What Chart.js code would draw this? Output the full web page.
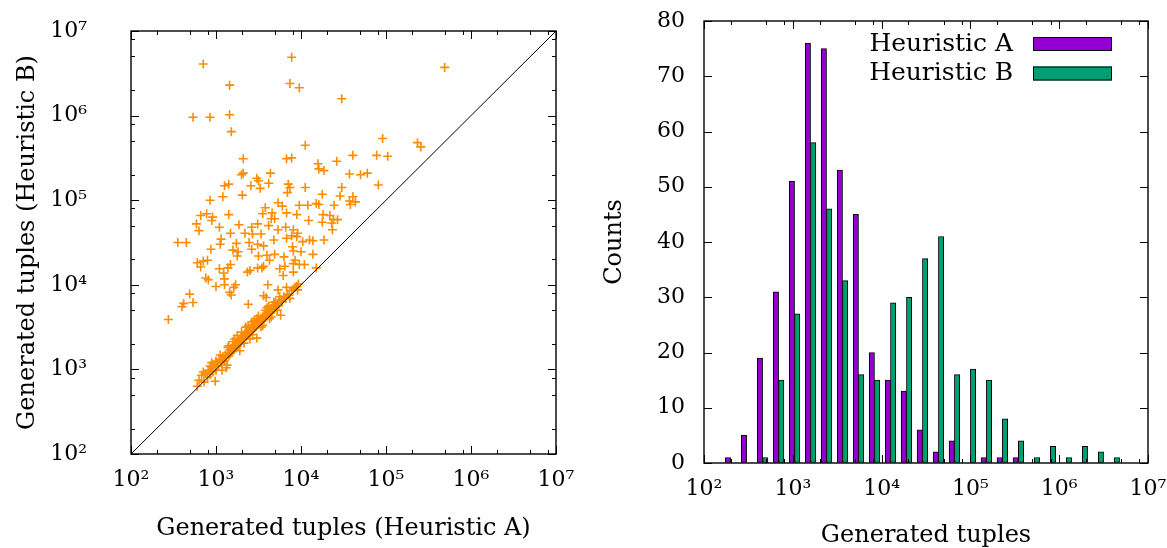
<!DOCTYPE html>
<html>
<head>
<meta charset="utf-8">
<script src="https://cdn.jsdelivr.net/npm/chart.js@4.4.1/dist/chart.umd.min.js"></script>
<style>
  html, body { margin: 0; padding: 0; background: #fff; }
  .wrap { position: relative; width: 1167px; height: 548px; }
  #scatterChart { position: absolute; left: 0; top: 0; }
  #histChart { position: absolute; left: 583px; top: 0; }
</style>
</head>
<body>
<div class="wrap">
  <canvas id="scatterChart" width="583" height="548"></canvas>
  <canvas id="histChart" width="584" height="548"></canvas>
</div>
<script>
// Scatter: [log10 tuples A, log10 tuples B], the cloud above the diagonal
const spreadPoints = [
  [3.89,6.69],[2.85,6.61],[5.69,6.57],[3.16,6.36],[3.87,6.38],[3.98,6.33],[4.48,6.20],[2.73,5.98],[2.93,5.98],[3.16,6.01],
  [3.18,5.81],[4.96,5.73],[5.37,5.68],[5.41,5.63],[4.05,5.65],[3.32,5.49],[3.83,5.49],[3.89,5.50],[4.42,5.46],[4.61,5.53],
  [4.89,5.53],[5.02,5.52],[4.20,5.43],[4.21,5.37],[4.27,5.35],[4.57,5.31],[4.70,5.30],[4.78,5.32],[3.64,5.32],[3.32,5.32],
  [3.30,5.30],[3.48,5.26],[3.50,5.23],[3.41,5.17],[3.52,5.14],[3.62,5.20],[3.85,5.19],[3.87,5.15],[3.84,5.09],[3.10,5.17],
  [3.15,5.19],[4.05,5.15],[4.48,5.15],[4.91,5.18],[4.25,5.07],[4.46,5.05],[4.61,5.04],[4.64,4.98],[4.57,4.99],[4.58,4.95],
  [3.31,5.06],[3.08,5.04],[2.93,5.00],[3.73,4.97],[3.78,4.93],[3.98,4.94],[4.08,4.94],[4.18,4.96],[4.21,4.95],[4.39,4.94],
  [3.58,4.91],[3.55,4.84],[3.66,4.85],[3.83,4.85],[3.95,4.83],[4.26,4.83],[4.34,4.82],[4.38,4.77],[4.43,4.77],[4.36,4.73],
  [4.25,4.74],[4.09,4.76],[2.82,4.82],[2.89,4.84],[2.96,4.80],[2.95,4.76],[3.15,4.83],[2.77,4.72],[2.80,4.64],[3.04,4.68],
  [3.17,4.61],[3.27,4.71],[3.34,4.61],[3.42,4.68],[3.43,4.60],[3.49,4.72],[3.53,4.60],[3.62,4.70],[3.65,4.78],[3.69,4.78],
  [3.73,4.65],[3.82,4.68],[3.91,4.65],[3.96,4.61],[3.95,4.57],[4.02,4.51],[4.10,4.53],[4.14,4.52],[4.27,4.53],[4.37,4.65],
  [2.55,4.50],[2.65,4.50],[2.94,4.42],[3.05,4.48],[3.06,4.54],[3.24,4.49],[3.20,4.41],[3.26,4.39],[3.39,4.50],[3.42,4.42],
  [3.49,4.48],[3.56,4.46],[3.68,4.53],[3.83,4.55],[3.89,4.58],[3.90,4.45],[3.91,4.40],[4.00,4.39],[4.14,4.36],[2.78,4.26],
  [2.82,4.21],[2.85,4.28],[2.90,4.29],[3.04,4.19],[3.14,4.20],[3.09,4.14],[3.17,4.24],[3.25,4.34],[3.40,4.17],[3.37,4.15],
  [3.50,4.34],[3.49,4.20],[3.54,4.20],[3.56,4.22],[3.60,4.35],[3.69,4.36],[3.63,4.29],[3.75,4.19],[3.79,4.11],[3.81,4.22],
  [3.80,4.33],[3.91,4.25],[3.93,4.29],[3.98,4.24],[4.04,4.24],[3.91,4.15],[4.18,4.20],[2.88,4.08],[2.91,4.06],[3.00,3.98],
  [3.10,4.07],[3.10,4.00],[3.16,3.91],[3.18,3.88],[3.23,4.00],[3.21,3.97],[3.61,4.00],[3.73,3.94],[3.83,3.97],[3.96,3.94],
  [3.56,3.87],[3.59,3.85],[3.38,3.77],[2.69,3.89],[2.73,3.79],[2.62,3.78],[2.60,3.74],[2.44,3.59]
];

// Scatter: the dense band just above y = x
const bandPoints = [
  [2.78,2.80],[2.80,2.87],[2.83,2.93],[2.85,2.97],[2.86,2.85],[2.88,2.95],[2.90,2.91],[2.91,2.99],[2.93,2.94],[2.95,3.02],
  [2.96,2.97],[2.98,3.05],[3.00,2.99],[3.01,3.08],[3.03,3.04],[3.04,3.12],[3.06,3.08],[3.07,3.11],[3.08,3.15],[3.10,3.10],
  [3.11,3.17],[3.12,3.14],[3.13,3.05],[3.14,3.20],[3.15,3.16],[3.16,3.23],[3.17,3.19],[3.18,3.25],[3.19,3.21],[3.20,3.27],
  [3.21,3.24],[3.22,3.29],[3.23,3.26],[3.24,3.31],[3.25,3.28],[3.26,3.34],[3.27,3.30],[3.28,3.36],[3.29,3.32],[3.30,3.38],
  [3.31,3.35],[3.32,3.40],[3.33,3.37],[3.34,3.42],[3.35,3.39],[3.36,3.44],[3.37,3.41],[3.38,3.46],[3.39,3.43],[3.40,3.48],
  [3.41,3.45],[3.42,3.50],[3.43,3.47],[3.44,3.52],[3.45,3.49],[3.46,3.54],[3.47,3.51],[3.48,3.37],[3.49,3.56],[3.50,3.53],
  [3.51,3.58],[3.52,3.55],[3.53,3.60],[3.54,3.57],[3.55,3.62],[3.56,3.59],[3.57,3.64],[3.58,3.61],[3.59,3.66],[3.60,3.63],
  [3.61,3.68],[3.62,3.65],[3.63,3.70],[3.64,3.67],[3.65,3.72],[3.66,3.69],[3.67,3.74],[3.68,3.71],[3.69,3.76],[3.70,3.73],
  [3.72,3.78],[3.73,3.75],[3.74,3.80],[3.76,3.64],[3.77,3.82],[3.78,3.80],[3.80,3.86],[3.82,3.84],[3.84,3.89],[3.86,3.88],
  [3.87,3.84],[3.89,3.93],[3.91,3.95],[3.93,3.97],[3.95,3.98],[3.97,4.01],[3.20,3.33],[3.35,3.50],[3.45,3.58],[3.28,3.22],
  [3.40,3.36],[3.55,3.52],[3.65,3.62],[3.07,2.99],[2.93,3.04],[3.00,3.10],[3.14,3.26],[3.60,3.73],[3.70,3.80],[3.25,3.40],
  [3.50,3.63],[2.99,2.86],[3.12,3.02],[3.30,3.44],[3.38,3.52],[3.48,3.60],[3.58,3.70],[3.68,3.79],[3.15,3.28],[3.05,3.17],
  [2.95,3.08],[3.22,3.36],[3.42,3.56],[3.62,3.75],[3.75,3.86],[3.33,3.31],[3.43,3.41],[3.53,3.50],[3.63,3.60],[3.72,3.70]
];

// Histogram: bin centres (log10 tuples) and counts
const binCentersLog = [2.30, 2.48, 2.66, 2.84, 3.02, 3.20, 3.38, 3.56, 3.74, 3.92, 4.10, 4.28, 4.46,
                       4.64, 4.82, 5.00, 5.18, 5.36, 5.54, 5.72, 5.90, 6.08, 6.26, 6.44, 6.62];
const countsA = [1, 5, 19, 31, 51, 76, 75, 53, 45, 20, 15, 13, 6, 2, 4, 0, 1, 1, 1, 0, 0, 0, 0, 0, 0];
const countsB = [0, 0, 1, 15, 27, 58, 46, 33, 16, 15, 29, 30, 37, 41, 16, 17, 15, 8, 4, 1, 3, 1, 3, 2, 1];

// Axis ticks
const decadeTicks = [1e2, 1e3, 1e4, 1e5, 1e6, 1e7];
const decadeLabels = ['10²', '10³', '10⁴', '10⁵', '10⁶', '10⁷'];
const countTicks = [0, 10, 20, 30, 40, 50, 60, 70, 80];

const FONT = { family: '"DejaVu Serif", serif', size: 24, lineHeight: 1 };
const TICK_FONT = { family: '"DejaVu Serif", serif', size: 22 };
const CLEAR = 'rgba(0,0,0,0)';

// minor log ticks at 2, 5, 8 per decade (as in the original)
function logMinor(from, to) {
  const out = [];
  for (let d = from; d < to; d *= 10) out.push(d * 2, d * 5, d * 8);
  return out;
}

// frame + inward tick marks on all four sides (gnuplot look)
const frameTicks = {
  id: 'frameTicks',
  afterDraw(chart, args, opts) {
    const { ctx, chartArea: a, scales } = chart;
    ctx.save();
    ctx.strokeStyle = '#000';
    ctx.lineWidth = 1;
    ctx.beginPath();
    const xt = (vals, len) => vals.forEach(v => {
      const p = Math.round(scales.x.getPixelForValue(v)) + 0.5;
      ctx.moveTo(p, a.bottom); ctx.lineTo(p, a.bottom - len);
      ctx.moveTo(p, a.top); ctx.lineTo(p, a.top + len);
    });
    const yt = (vals, len) => vals.forEach(v => {
      const p = Math.round(scales.y.getPixelForValue(v)) + 0.5;
      ctx.moveTo(a.left, p); ctx.lineTo(a.left + len, p);
      ctx.moveTo(a.right, p); ctx.lineTo(a.right - len, p);
    });
    xt(opts.xMajor || [], 8);
    xt(opts.xMinor || [], 4);
    yt(opts.yMajor || [], 8);
    yt(opts.yMinor || [], 4);
    ctx.stroke();
    ctx.lineWidth = 1.4;
    ctx.strokeRect(a.left, a.top, a.right - a.left, a.bottom - a.top);
    ctx.restore();
  }
};

// legend in the top right corner: text, then a filled box
const legendBoxes = {
  id: 'legendBoxes',
  afterDraw(chart) {
    const { ctx, chartArea: a } = chart;
    ctx.save();
    ctx.font = '25px "DejaVu Serif", serif';
    ctx.textAlign = 'right';
    ctx.textBaseline = 'middle';
    chart.data.datasets.forEach((ds, i) => {
      const cy = a.top + 23 + i * 29.5;
      ctx.fillStyle = '#000';
      ctx.fillText(ds.label, a.right - 135, cy);
      ctx.fillStyle = ds.backgroundColor;
      ctx.fillRect(a.right - 115, cy - 7, 79, 14);
      ctx.strokeStyle = '#000';
      ctx.lineWidth = 1;
      ctx.strokeRect(a.right - 115 + 0.5, cy - 7 + 0.5, 78, 13);
    });
    ctx.restore();
  }
};

// invisible grid ticks are used only to push the labels away from the frame
function hiddenGrid(len) {
  return { display: true, drawOnChartArea: false, drawTicks: true, tickLength: len, color: CLEAR, tickColor: CLEAR };
}

function logAxis(size, fitKey, titleText, titlePad, labelGap, labelPad) {
  return {
    type: 'logarithmic',
    min: 1e2,
    max: 1e7,
    offset: false,
    afterBuildTicks: s => { s.ticks = decadeTicks.map(v => ({ value: v })); },
    afterFit: s => { s[fitKey] = size; },
    grid: hiddenGrid(labelGap),
    border: { display: false },
    ticks: {
      autoSkip: false, maxRotation: 0, color: '#000', font: TICK_FONT, padding: labelPad,
      crossAlign: 'near', callback: (v, i) => decadeLabels[i]
    },
    title: { display: true, text: titleText, color: '#000', font: FONT, padding: titlePad }
  };
}

// ---- left: scatter ----
const scatterData = spreadPoints.concat(bandPoints).map(p => ({ x: 10 ** p[0], y: 10 ** p[1] }));

new Chart(document.getElementById('scatterChart'), {
  type: 'scatter',
  data: {
    datasets: [
      {
        type: 'line',
        data: [{ x: 1e2, y: 1e2 }, { x: 1e7, y: 1e7 }],
        borderColor: '#000',
        borderWidth: 1,
        pointRadius: 0,
        order: 0
      },
      {
        data: scatterData,
        pointStyle: 'cross',
        pointRadius: 4.5,
        borderColor: '#ff8c00',
        backgroundColor: '#ff8c00',
        pointBorderWidth: 1.6,
        order: 1
      }
    ]
  },
  options: {
    responsive: false,
    animation: false,
    events: [],
    layout: { padding: { left: 0, right: 27, top: 31, bottom: 0 } },
    plugins: {
      legend: { display: false },
      tooltip: { enabled: false },
      frameTicks: {
        xMajor: decadeTicks, xMinor: logMinor(1e2, 1e7),
        yMajor: decadeTicks, yMinor: logMinor(1e2, 1e7)
      }
    },
    scales: {
      x: logAxis(94, 'height', 'Generated tuples (Heuristic A)', { top: 0, bottom: 7 }, 13, 0),
      y: logAxis(131, 'width', 'Generated tuples (Heuristic B)', { top: 16, bottom: 0 }, 44, 0)
    }
  },
  plugins: [frameTicks]
});

// ---- right: histogram ----
new Chart(document.getElementById('histChart'), {
  type: 'bar',
  data: {
    datasets: [
      {
        label: 'Heuristic A',
        data: binCentersLog.map((e, i) => ({ x: 10 ** e, y: countsA[i] })),
        backgroundColor: '#9400d3',
        borderColor: '#000',
        borderWidth: 1,
        borderSkipped: false,
        barThickness: 5.33
      },
      {
        label: 'Heuristic B',
        data: binCentersLog.map((e, i) => ({ x: 10 ** e, y: countsB[i] })),
        backgroundColor: '#009e73',
        borderColor: '#000',
        borderWidth: 1,
        borderSkipped: false,
        barThickness: 5.33
      }
    ]
  },
  options: {
    responsive: false,
    animation: false,
    events: [],
    layout: { padding: { left: 0, right: 19, top: 21, bottom: 0 } },
    plugins: {
      legend: { display: false },
      tooltip: { enabled: false },
      frameTicks: {
        xMajor: decadeTicks, xMinor: logMinor(1e2, 1e7),
        yMajor: countTicks
      }
    },
    scales: {
      x: logAxis(85, 'height', 'Generated tuples', { top: 0, bottom: 0 }, 13, 0),
      y: {
        min: 0,
        max: 80,
        afterBuildTicks: s => { s.ticks = countTicks.map(v => ({ value: v })); },
        afterFit: s => { s.width = 121; },
        grid: hiddenGrid(19),
        border: { display: false },
        ticks: { color: '#000', font: TICK_FONT, padding: 0 },
        title: { display: true, text: 'Counts', color: '#000', font: FONT, padding: { top: 20, bottom: 0 } }
      }
    }
  },
  plugins: [frameTicks, legendBoxes]
});
</script>
</body>
</html>
